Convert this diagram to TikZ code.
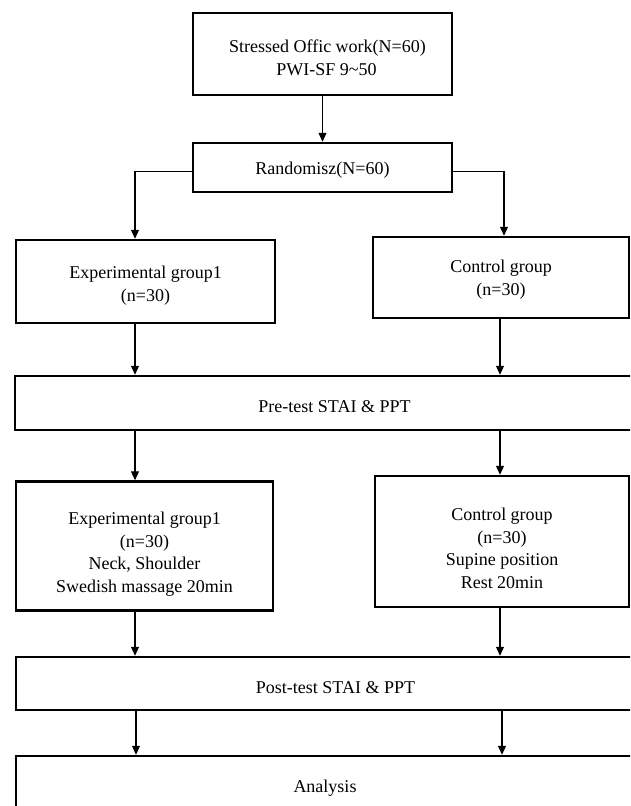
\documentclass[tikz,border=0pt]{standalone}
\usepackage{fontspec}
\setmainfont{Liberation Serif}
\usetikzlibrary{arrows.meta}
\newcommand{\flowFont}{\fontsize{18}{22.5}\selectfont}
% strut on the first line: pushes the text down in its box
\newcommand{\dn}[1]{\rule{0pt}{#1}}

\begin{document}
\begin{tikzpicture}[x=1pt,y=-1pt,line width=1.1pt,->,>={Triangle[length=9pt,width=8pt]},
  box/.style={draw,line width=2.5pt,rectangle,inner sep=0pt,align=center,font=\flowFont}]
  \clip (0,0) rectangle (630,806);
  \coordinate (colL) at (135,0);
  \coordinate (colR) at (500,0);
  \node [box,minimum width=259pt,minimum height=82pt]  (stress)   at (322.5, 54)   {\dn{20.5pt}\hspace*{10pt}Stressed Offic work(N=60)\\\hspace*{8pt}PWI-SF 9\textasciitilde50};
  \node [box,minimum width=259pt,minimum height=49pt]  (random)   at (322.5, 167.5) {\dn{18.5pt}Randomisz(N=60)};
  \node [box,minimum width=259pt,minimum height=83pt]  (expA)     at (145.5, 281.5) {\dn{20.5pt}Experimental group1\\(n=30)};
  \node [box,minimum width=256pt,minimum height=81pt]  (ctrlA)    at (501, 277.5)  {\dn{16.5pt}Control group\\(n=30)};
  \node [box,minimum width=639pt,minimum height=54pt]  (pre)      at (334.5, 403)  {\dn{18.5pt}Pre-test STAI \& PPT};
  \node [box,minimum width=257pt,minimum height=129pt] (expB)     at (144.5, 546)  {\dn{28.5pt}Experimental group1\\(n=30)\\Neck, Shoulder\\Swedish massage 20min};
  \node [box,minimum width=254pt,minimum height=131pt] (ctrlB)    at (502, 541.5)  {\dn{26.5pt}Control group\\(n=30)\\Supine position\\Rest 20min};
  \node [box,minimum width=639pt,minimum height=53pt]  (post)     at (335.5, 683.5) {\dn{20.5pt}Post-test STAI \& PPT};
  \node [box,minimum width=618pt,minimum height=56pt]  (analysis) at (325, 784)    {\dn{20.5pt}Analysis};
  \path  (stress) edge (random);
  \draw  ([yshift=-4pt]random.west) -| (expA.north -| colL);
  \draw  ([yshift=-4pt]random.east) -| ([xshift=3pt]ctrlA.north);
  \path  (expA.south -| colL) edge (pre.north -| colL)
         (ctrlA.south -| colR) edge (pre.north -| colR);
  \path  (pre.south -| colL) edge (expB.north -| colL)
         (pre.south -| colR) edge (ctrlB.north -| colR);
  \path  (expB.south -| colL) edge (post.north -| colL)
         (ctrlB.south -| colR) edge (post.north -| colR);
  \path  ([xshift=1pt]post.south -| colL) edge ([xshift=1pt]analysis.north -| colL)
         ([xshift=2pt]post.south -| colR) edge ([xshift=2pt]analysis.north -| colR);
\end{tikzpicture}
\end{document}
